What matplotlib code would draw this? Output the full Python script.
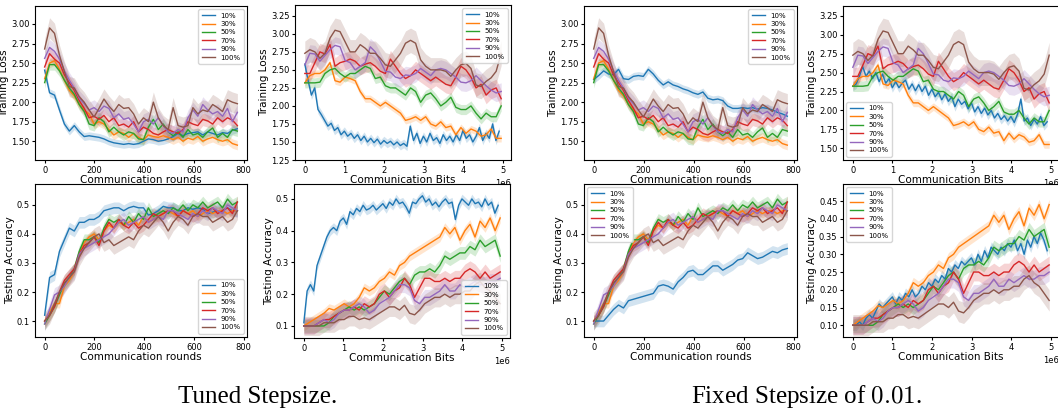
import numpy as np
import matplotlib.pyplot as plt

# compression ratios shown in every panel
labels = ["10%", "30%", "50%", "70%", "90%", "100%"]
colors = ["C0", "C1", "C2", "C3", "C4", "C5"]

# x grids
rounds = np.linspace(0, 775, 40)
bits = np.linspace(0, 4.95e6, 40)
bits_10 = np.linspace(0, 4.9e6, 60)

# ---- training loss vs communication rounds (30%..100% shared by both stepsizes)
loss_r_10_tuned = [2.41, 2.12, 2.09, 1.90, 1.72, 1.63, 1.70, 1.62, 1.56, 1.57, 1.56, 1.55, 1.53, 1.50,
                   1.48, 1.47, 1.46, 1.47, 1.46, 1.47, 1.50, 1.53, 1.52, 1.50, 1.51, 1.53, 1.56, 1.60,
                   1.57, 1.60, 1.61, 1.62, 1.58, 1.62, 1.60, 1.58, 1.61, 1.60, 1.64, 1.66]
loss_r_10_fixed = [2.29, 2.34, 2.40, 2.36, 2.35, 2.42, 2.30, 2.29, 2.33, 2.34, 2.33, 2.42, 2.36, 2.28,
                   2.22, 2.26, 2.22, 2.20, 2.17, 2.15, 2.12, 2.10, 2.13, 2.05, 2.03, 2.04, 2.02, 1.95,
                   1.92, 1.92, 1.93, 1.92, 1.93, 1.91, 1.93, 1.92, 1.90, 1.87, 1.85, 1.82]
loss_r_30 = [2.30, 2.50, 2.53, 2.42, 2.28, 2.15, 2.08, 1.97, 1.90, 1.85, 1.72, 1.75, 1.72, 1.65,
             1.58, 1.62, 1.60, 1.55, 1.60, 1.55, 1.52, 1.58, 1.56, 1.55, 1.57, 1.55, 1.52, 1.55,
             1.50, 1.54, 1.52, 1.56, 1.50, 1.53, 1.55, 1.52, 1.50, 1.52, 1.47, 1.45]
loss_r_50 = [2.25, 2.48, 2.48, 2.40, 2.28, 2.18, 2.10, 1.97, 1.88, 1.72, 1.70, 1.80, 1.75, 1.62,
             1.68, 1.62, 1.58, 1.62, 1.60, 1.53, 1.52, 1.68, 1.78, 1.65, 1.72, 1.62, 1.57, 1.62,
             1.55, 1.65, 1.58, 1.60, 1.55, 1.62, 1.67, 1.55, 1.60, 1.55, 1.65, 1.63]
loss_r_70 = [2.45, 2.62, 2.55, 2.50, 2.35, 2.25, 2.15, 2.02, 1.92, 1.80, 1.82, 1.78, 1.83, 1.75,
             1.80, 1.70, 1.72, 1.68, 1.75, 1.62, 1.68, 1.65, 1.60, 1.58, 1.62, 1.65, 1.62, 1.60,
             1.65, 1.75, 1.72, 1.70, 1.78, 1.76, 1.72, 1.80, 1.75, 1.80, 1.77, 1.70]
loss_r_90 = [2.56, 2.70, 2.65, 2.55, 2.40, 2.28, 2.18, 2.05, 1.98, 1.90, 1.93, 1.88, 1.95, 1.92,
             1.80, 1.85, 1.78, 1.80, 1.72, 1.62, 1.75, 1.78, 1.72, 1.80, 1.70, 1.62, 1.60, 1.65,
             1.62, 1.80, 1.90, 1.82, 1.97, 1.90, 1.85, 1.88, 1.82, 1.92, 1.75, 1.87]
loss_r_100 = [2.68, 2.95, 2.88, 2.60, 2.39, 2.20, 2.18, 2.07, 2.00, 1.90, 1.81, 1.92, 2.04, 1.95,
              1.88, 1.97, 1.92, 1.93, 1.85, 1.72, 1.80, 1.75, 2.00, 1.80, 1.70, 1.65, 1.93, 1.70,
              1.68, 1.70, 1.93, 1.85, 1.90, 1.88, 1.97, 1.93, 1.88, 2.03, 2.00, 1.98]

# ---- training loss vs communication bits
loss_b_10_tuned = [2.58, 2.35, 2.15, 2.25, 1.95, 1.88, 1.80, 1.72, 1.76, 1.66, 1.70, 1.60, 1.65, 1.58,
                   1.62, 1.55, 1.60, 1.52, 1.58, 1.50, 1.55, 1.49, 1.54, 1.47, 1.52, 1.48, 1.51, 1.46,
                   1.50, 1.45, 1.48, 1.44, 1.72, 1.52, 1.62, 1.48, 1.58, 1.50, 1.62, 1.52, 1.56, 1.48,
                   1.60, 1.52, 1.58, 1.50, 1.60, 1.52, 1.66, 1.55, 1.60, 1.50, 1.58, 1.70, 1.52, 1.62,
                   1.55, 1.75, 1.52, 1.65]
loss_b_10_fixed = [2.32, 2.35, 2.45, 2.58, 2.45, 2.52, 2.42, 2.50, 2.38, 2.48, 2.36, 2.42, 2.30, 2.38,
                   2.30, 2.36, 2.40, 2.28, 2.35, 2.26, 2.34, 2.25, 2.32, 2.20, 2.28, 2.18, 2.24, 2.14,
                   2.22, 2.12, 2.18, 2.05, 2.15, 2.08, 2.12, 2.02, 2.10, 1.98, 2.05, 1.96, 2.03, 1.94,
                   2.00, 1.90, 1.96, 1.88, 1.93, 1.86, 1.92, 1.84, 1.95, 2.15, 1.86, 1.90, 1.80, 1.88,
                   1.82, 1.92, 1.80, 1.85]
loss_b_30 = [2.32, 2.42, 2.45, 2.45, 2.50, 2.60, 2.35, 2.33, 2.40, 2.38, 2.35, 2.20, 2.10, 2.10,
             2.05, 2.00, 2.05, 2.00, 1.95, 1.90, 1.80, 1.82, 1.85, 1.80, 1.85, 1.75, 1.72, 1.78,
             1.70, 1.72, 1.60, 1.70, 1.62, 1.68, 1.65, 1.58, 1.60, 1.68, 1.55, 1.55]
loss_b_50 = [2.32, 2.32, 2.32, 2.33, 2.45, 2.50, 2.52, 2.45, 2.40, 2.45, 2.45, 2.50, 2.55, 2.52,
             2.38, 2.40, 2.28, 2.25, 2.25, 2.20, 2.15, 2.25, 2.20, 2.05, 2.15, 2.18, 2.10, 2.00,
             2.05, 2.12, 1.98, 1.95, 1.95, 2.00, 1.90, 1.82, 1.90, 1.85, 1.85, 2.00]
loss_b_70 = [2.45, 2.45, 2.60, 2.75, 2.72, 2.85, 2.55, 2.60, 2.62, 2.65, 2.62, 2.55, 2.58, 2.60,
             2.55, 2.48, 2.45, 2.65, 2.55, 2.45, 2.38, 2.42, 2.50, 2.45, 2.40, 2.35, 2.40, 2.35,
             2.30, 2.28, 2.40, 2.55, 2.50, 2.40, 2.25, 2.30, 2.15, 2.22, 2.25, 2.10]
loss_b_90 = [2.57, 2.73, 2.72, 2.62, 2.70, 2.78, 2.84, 2.82, 2.63, 2.60, 2.50, 2.55, 2.60, 2.82,
             2.75, 2.62, 2.48, 2.47, 2.40, 2.38, 2.43, 2.42, 2.45, 2.52, 2.47, 2.42, 2.50, 2.52,
             2.50, 2.45, 2.40, 2.33, 2.32, 2.35, 2.42, 2.35, 2.28, 2.22, 2.18, 2.20]
loss_b_100 = [2.73, 2.78, 2.75, 2.66, 2.73, 2.94, 3.05, 3.03, 2.89, 2.75, 2.75, 2.85, 2.80, 2.73,
              2.73, 2.66, 2.57, 2.55, 2.64, 2.73, 2.87, 2.91, 2.87, 2.64, 2.55, 2.50, 2.50, 2.50,
              2.48, 2.41, 2.50, 2.57, 2.59, 2.52, 2.29, 2.27, 2.34, 2.39, 2.48, 2.73]

# ---- testing accuracy vs communication rounds
acc_r_10_tuned = [0.12, 0.25, 0.26, 0.34, 0.38, 0.42, 0.41, 0.44, 0.44, 0.45, 0.45, 0.46, 0.48, 0.485,
                  0.49, 0.49, 0.48, 0.49, 0.495, 0.49, 0.49, 0.465, 0.47, 0.48, 0.495, 0.49, 0.49, 0.48,
                  0.48, 0.49, 0.485, 0.49, 0.485, 0.47, 0.475, 0.48, 0.48, 0.49, 0.48, 0.48]
acc_r_10_fixed = [0.10, 0.10, 0.10, 0.12, 0.14, 0.155, 0.145, 0.17, 0.175, 0.18, 0.185, 0.19, 0.195, 0.22,
                  0.225, 0.22, 0.21, 0.235, 0.25, 0.27, 0.275, 0.26, 0.26, 0.275, 0.29, 0.29, 0.275, 0.285,
                  0.295, 0.31, 0.315, 0.335, 0.325, 0.315, 0.32, 0.33, 0.34, 0.335, 0.345, 0.35]
acc_r_30 = [0.10, 0.13, 0.16, 0.16, 0.22, 0.24, 0.27, 0.33, 0.37, 0.39, 0.40, 0.38, 0.41, 0.43,
            0.42, 0.44, 0.43, 0.44, 0.45, 0.43, 0.46, 0.44, 0.45, 0.46, 0.47, 0.48, 0.47, 0.46,
            0.48, 0.47, 0.48, 0.46, 0.47, 0.48, 0.47, 0.48, 0.48, 0.47, 0.48, 0.48]
acc_r_50 = [0.09, 0.12, 0.15, 0.19, 0.23, 0.25, 0.28, 0.34, 0.38, 0.38, 0.39, 0.37, 0.42, 0.45,
            0.44, 0.45, 0.43, 0.46, 0.44, 0.47, 0.45, 0.49, 0.46, 0.47, 0.48, 0.47, 0.49, 0.48,
            0.50, 0.48, 0.50, 0.49, 0.51, 0.49, 0.50, 0.51, 0.49, 0.52, 0.50, 0.51]
acc_r_70 = [0.10, 0.12, 0.15, 0.20, 0.24, 0.26, 0.28, 0.33, 0.36, 0.37, 0.39, 0.36, 0.41, 0.44,
            0.42, 0.45, 0.43, 0.42, 0.44, 0.42, 0.43, 0.45, 0.47, 0.46, 0.47, 0.48, 0.48, 0.46,
            0.48, 0.47, 0.46, 0.47, 0.49, 0.48, 0.49, 0.47, 0.48, 0.49, 0.47, 0.51]
acc_r_90 = [0.09, 0.14, 0.19, 0.20, 0.22, 0.25, 0.27, 0.33, 0.35, 0.36, 0.37, 0.38, 0.39, 0.40,
            0.42, 0.44, 0.45, 0.43, 0.44, 0.45, 0.46, 0.44, 0.45, 0.46, 0.45, 0.48, 0.48, 0.47,
            0.46, 0.45, 0.47, 0.46, 0.48, 0.47, 0.49, 0.48, 0.47, 0.50, 0.49, 0.48]
acc_r_100 = [0.10, 0.12, 0.16, 0.20, 0.23, 0.25, 0.27, 0.32, 0.35, 0.37, 0.39, 0.40, 0.37, 0.38,
             0.36, 0.37, 0.38, 0.39, 0.38, 0.41, 0.43, 0.42, 0.44, 0.46, 0.44, 0.41, 0.44, 0.46,
             0.45, 0.43, 0.46, 0.47, 0.46, 0.46, 0.44, 0.45, 0.46, 0.44, 0.45, 0.48]

# ---- testing accuracy vs communication bits
acc_b_10_tuned = [0.11, 0.21, 0.23, 0.21, 0.29, 0.32, 0.35, 0.38, 0.40, 0.41, 0.40, 0.43, 0.44, 0.42,
                  0.46, 0.45, 0.47, 0.46, 0.48, 0.465, 0.47, 0.48, 0.465, 0.475, 0.485, 0.47, 0.49, 0.48,
                  0.50, 0.485, 0.49, 0.475, 0.455, 0.49, 0.485, 0.50, 0.51, 0.49, 0.50, 0.48, 0.49, 0.475,
                  0.49, 0.50, 0.485, 0.49, 0.435, 0.48, 0.50, 0.49, 0.48, 0.50, 0.485, 0.49, 0.475, 0.50,
                  0.48, 0.49, 0.455, 0.48]
acc_b_10_fixed = [0.10, 0.10, 0.11, 0.10, 0.12, 0.13, 0.12, 0.14, 0.16, 0.15, 0.16, 0.17, 0.18, 0.16,
                  0.18, 0.17, 0.19, 0.18, 0.20, 0.18, 0.19, 0.21, 0.20, 0.22, 0.21, 0.23, 0.22, 0.24,
                  0.23, 0.26, 0.25, 0.27, 0.26, 0.28, 0.27, 0.28, 0.29, 0.27, 0.30, 0.28, 0.31, 0.29,
                  0.32, 0.31, 0.30, 0.32, 0.31, 0.33, 0.32, 0.34, 0.31, 0.33, 0.30, 0.34, 0.32, 0.35,
                  0.33, 0.36, 0.34, 0.31]
acc_b_30 = [0.10, 0.11, 0.12, 0.13, 0.14, 0.155, 0.15, 0.16, 0.17, 0.16, 0.17, 0.19, 0.22, 0.21,
            0.22, 0.24, 0.25, 0.27, 0.26, 0.29, 0.30, 0.32, 0.33, 0.34, 0.35, 0.36, 0.37, 0.38,
            0.41, 0.39, 0.41, 0.37, 0.40, 0.42, 0.38, 0.43, 0.41, 0.44, 0.40, 0.44]
acc_b_50 = [0.10, 0.10, 0.10, 0.10, 0.10, 0.11, 0.13, 0.14, 0.15, 0.16, 0.15, 0.16, 0.15, 0.16,
            0.17, 0.19, 0.21, 0.20, 0.22, 0.24, 0.25, 0.23, 0.26, 0.27, 0.27, 0.28, 0.27, 0.29,
            0.32, 0.31, 0.32, 0.33, 0.33, 0.35, 0.34, 0.37, 0.35, 0.36, 0.37, 0.32]
acc_b_70 = [0.10, 0.10, 0.10, 0.11, 0.12, 0.12, 0.13, 0.14, 0.15, 0.15, 0.16, 0.15, 0.17, 0.16,
            0.17, 0.20, 0.21, 0.19, 0.21, 0.22, 0.25, 0.23, 0.19, 0.22, 0.25, 0.25, 0.24, 0.24,
            0.25, 0.24, 0.25, 0.25, 0.27, 0.28, 0.27, 0.25, 0.27, 0.25, 0.26, 0.27]
acc_b_90 = [0.10, 0.10, 0.10, 0.11, 0.12, 0.11, 0.12, 0.14, 0.15, 0.15, 0.16, 0.17, 0.16, 0.14,
            0.15, 0.17, 0.18, 0.19, 0.21, 0.23, 0.23, 0.22, 0.18, 0.17, 0.19, 0.19, 0.20, 0.21,
            0.23, 0.21, 0.21, 0.23, 0.22, 0.23, 0.24, 0.23, 0.23, 0.24, 0.24, 0.25]
acc_b_100 = [0.10, 0.10, 0.10, 0.10, 0.11, 0.11, 0.11, 0.12, 0.12, 0.13, 0.13, 0.12, 0.125, 0.12,
             0.13, 0.14, 0.15, 0.16, 0.16, 0.15, 0.165, 0.14, 0.135, 0.15, 0.17, 0.18, 0.19, 0.19,
             0.20, 0.19, 0.20, 0.20, 0.21, 0.21, 0.23, 0.24, 0.22, 0.21, 0.19, 0.17]

# half-widths of the shaded bands (std over runs), order 10%..100%
band_loss_r = [0.05, 0.06, 0.07, 0.08, 0.10, 0.13]
band_loss_b = [0.06, 0.05, 0.07, 0.12, 0.12, 0.17]
band_acc_r = [0.02, 0.015, 0.02, 0.02, 0.025, 0.03]
band_acc_b = [0.015, 0.015, 0.02, 0.025, 0.025, 0.03]

W, H = 1058, 412


def px_axes(fig, left, top, right, bottom):
    return fig.add_axes([left / W, 1 - bottom / H, (right - left) / W, (bottom - top) / H])


def draw_panel(ax, x10, y10, x, others, bands, xlabel, ylabel, legend_loc, ylim, yticks):
    xs = [x10] + [x] * 5
    ys = [y10] + others
    for xi, yi, b, c, lab in zip(xs, ys, bands, colors, labels):
        yi = np.asarray(yi)
        ax.fill_between(xi, yi - b, yi + b, color=c, alpha=0.2, linewidth=0)
        ax.plot(xi, yi, color=c, lw=1.0, label=lab)
    ax.set_xlabel(xlabel, fontsize=7.5, labelpad=0)
    ax.set_ylabel(ylabel, fontsize=7.5, labelpad=1)
    ax.set_ylim(*ylim)
    ax.set_yticks(yticks)
    ax.tick_params(labelsize=6, length=2.5, pad=1.5)
    ax.xaxis.get_offset_text().set_fontsize(6)
    ax.legend(loc=legend_loc, fontsize=5, handlelength=2.0, labelspacing=0.35,
              borderpad=0.45, handletextpad=0.7, framealpha=0.8)


fig = plt.figure(figsize=(W / 100, H / 100), dpi=100)
plt.rcParams['mathtext.fontset'] = 'cm'

loss_ticks_r = [1.50, 1.75, 2.00, 2.25, 2.50, 2.75, 3.00]
rounds_others_loss = [loss_r_30, loss_r_50, loss_r_70, loss_r_90, loss_r_100]
bits_others_loss = [loss_b_30, loss_b_50, loss_b_70, loss_b_90, loss_b_100]
rounds_others_acc = [acc_r_30, acc_r_50, acc_r_70, acc_r_90, acc_r_100]
bits_others_acc = [acc_b_30, acc_b_50, acc_b_70, acc_b_90, acc_b_100]

ax1 = px_axes(fig, 35, 6, 247, 160)
draw_panel(ax1, rounds, loss_r_10_tuned, rounds, rounds_others_loss, band_loss_r,
           "Communication rounds", "Training Loss", "upper right", (1.26, 3.23), loss_ticks_r)

ax2 = px_axes(fig, 295, 5, 511, 160)
draw_panel(ax2, bits_10, loss_b_10_tuned, bits, bits_others_loss, band_loss_b,
           "Communication Bits", "Training Loss", "upper right", (1.25, 3.40),
           [1.25, 1.50, 1.75, 2.00, 2.25, 2.50, 2.75, 3.00, 3.25])

ax3 = px_axes(fig, 584, 6, 797, 160)
draw_panel(ax3, rounds, loss_r_10_fixed, rounds, rounds_others_loss, band_loss_r,
           "Communication rounds", "Training Loss", "upper right", (1.26, 3.23), loss_ticks_r)

ax4 = px_axes(fig, 843, 6, 1059, 160)
draw_panel(ax4, bits_10, loss_b_10_fixed, bits, bits_others_loss, band_loss_b,
           "Communication Bits", "Training Loss", "lower left", (1.345, 3.38),
           [1.50, 1.75, 2.00, 2.25, 2.50, 2.75, 3.00, 3.25])

acc_ticks = [0.1, 0.2, 0.3, 0.4, 0.5]
ax5 = px_axes(fig, 35, 184, 247, 337)
draw_panel(ax5, rounds, acc_r_10_tuned, rounds, rounds_others_acc, band_acc_r,
           "Communication rounds", "Testing Accuracy", "lower right", (0.045, 0.572), acc_ticks)

ax6 = px_axes(fig, 294, 184, 510, 338)
draw_panel(ax6, bits_10, acc_b_10_tuned, bits, bits_others_acc, band_acc_b,
           "Communication Bits", "Testing Accuracy", "lower right", (0.062, 0.547), acc_ticks)

ax7 = px_axes(fig, 584, 184, 797, 337)
draw_panel(ax7, rounds, acc_r_10_fixed, rounds, rounds_others_acc, band_acc_r,
           "Communication rounds", "Testing Accuracy", "upper left", (0.045, 0.572), acc_ticks)

ax8 = px_axes(fig, 843, 184, 1059, 337)
draw_panel(ax8, bits_10, acc_b_10_fixed, bits, bits_others_acc, band_acc_b,
           "Communication Bits", "Testing Accuracy", "upper left", (0.067, 0.498),
           [0.10, 0.15, 0.20, 0.25, 0.30, 0.35, 0.40, 0.45])

fig.text(258 / W, 1 - 403 / H, "Tuned Stepsize.", family="Liberation Serif",
         fontsize=18, ha="center", va="baseline")
fig.text(806 / W, 1 - 403 / H, "Fixed Stepsize of $0.01$.", family="Liberation Serif",
         fontsize=18, ha="center", va="baseline")

fig.savefig("out.png", dpi=100)
